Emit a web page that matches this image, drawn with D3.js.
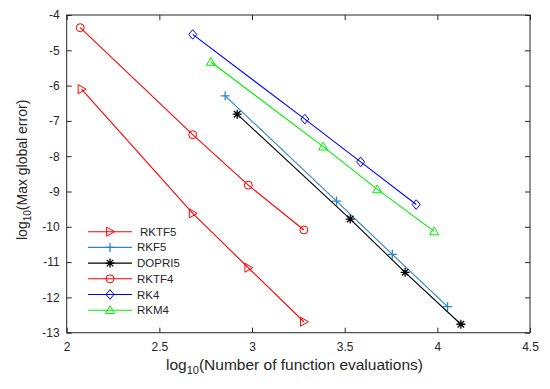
<html>
  <head>
    <meta charset="utf-8">
    <script src="https://d3js.org/d3.v7.min.js"></script>
    <style>
      body { margin: 0; background: white; }
      svg text { font-family: "Liberation Sans", Arial, sans-serif; fill: #262626; }
    </style>
  </head>
  <body>
    <script type="text/javascript">
      // input data (log10 evals, log10 max error)
      var seriesNames = ["RKTF5", "RKF5", "DOPRI5", "RKTF4", "RK4", "RKM4"];
      var seriesColors = ["#ff0000", "#2a86cc", "#000000", "#ff0000", "#0000ff", "#00ee00"];
      var seriesMarkers = ["triRight", "plus", "star", "circle", "diamond", "triUp"];

      var rktf5X = [2.08, 2.68, 2.98, 3.28];
      var rktf5Y = [-6.10, -9.62, -11.16, -12.69];
      var rkf5X = [2.855, 3.456, 3.757, 4.055];
      var rkf5Y = [-6.29, -9.27, -10.78, -12.26];
      var dopri5X = [2.92, 3.53, 3.826, 4.127];
      var dopri5Y = [-6.81, -9.78, -11.29, -12.76];
      var rktf4X = [2.073, 2.68, 2.98, 3.28];
      var rktf4Y = [-4.36, -7.39, -8.82, -10.09];
      var rk4X = [2.68, 3.285, 3.586, 3.886];
      var rk4Y = [-4.55, -6.95, -8.16, -9.37];
      var rkm4X = [2.778, 3.384, 3.676, 3.983];
      var rkm4Y = [-5.33, -7.73, -8.94, -10.13];

      var xTicks = [2, 2.5, 3, 3.5, 4, 4.5];
      var yTicks = [-4, -5, -6, -7, -8, -9, -10, -11, -12, -13];

      var allX = [rktf5X, rkf5X, dopri5X, rktf4X, rk4X, rkm4X];
      var allY = [rktf5Y, rkf5Y, dopri5Y, rktf4Y, rk4Y, rkm4Y];

      var width = 550, height = 389;
      var pLeft = 66.7, pRight = 530, pTop = 15, pBottom = 332.7;

      var svg = d3.select("body").append("svg")
        .attr("width", width)
        .attr("height", height);

      var x = d3.scaleLinear().domain([2, 4.5]).range([pLeft, pRight]);
      var y = d3.scaleLinear().domain([-13, -4]).range([pBottom, pTop]);

      // axes (MATLAB style box with inward ticks)
      var tickLen = 5;
      var axisColor = "#262626";
      var plainFmt = d => String(d);

      svg.append("g")
        .attr("transform", "translate(0," + pBottom + ")")
        .call(d3.axisBottom(x).tickValues(xTicks).tickSize(-tickLen).tickSizeOuter(0).tickPadding(10)
          .tickFormat(plainFmt))
        .call(g => g.select(".domain").remove())
        .call(g => g.selectAll("line").attr("stroke", axisColor))
        .call(g => g.selectAll("text").attr("font-size", "12px").attr("fill", axisColor)
          .style("font-family", "Liberation Sans, Arial, sans-serif"));

      svg.append("g")
        .attr("transform", "translate(0," + pTop + ")")
        .call(d3.axisTop(x).tickValues(xTicks).tickSize(-tickLen).tickSizeOuter(0).tickFormat(""))
        .call(g => g.select(".domain").remove())
        .call(g => g.selectAll("line").attr("stroke", axisColor));

      svg.append("g")
        .attr("transform", "translate(" + pLeft + ",0)")
        .call(d3.axisLeft(y).tickValues(yTicks).tickSize(-tickLen).tickSizeOuter(0).tickPadding(7)
          .tickFormat(plainFmt))
        .call(g => g.select(".domain").remove())
        .call(g => g.selectAll("line").attr("stroke", axisColor))
        .call(g => g.selectAll("text").attr("font-size", "12px").attr("fill", axisColor)
          .style("font-family", "Liberation Sans, Arial, sans-serif"));

      svg.append("g")
        .attr("transform", "translate(" + pRight + ",0)")
        .call(d3.axisRight(y).tickValues(yTicks).tickSize(-tickLen).tickSizeOuter(0).tickFormat(""))
        .call(g => g.select(".domain").remove())
        .call(g => g.selectAll("line").attr("stroke", axisColor));

      svg.append("rect")
        .attr("x", pLeft).attr("y", pTop)
        .attr("width", pRight - pLeft).attr("height", pBottom - pTop)
        .attr("fill", "none").attr("stroke", axisColor).attr("stroke-width", 1);

      // axis labels
      var xl = svg.append("text")
        .attr("x", 294.5)
        .attr("y", 370)
        .attr("text-anchor", "middle")
        .attr("font-size", "15.5px");
      xl.append("tspan").text("log");
      xl.append("tspan").attr("dy", 4).attr("font-size", "11px").text("10");
      xl.append("tspan").attr("dy", -4).text("(Number of function evaluations)");

      var yl = svg.append("text")
        .attr("transform", "translate(27," + ((pTop + pBottom) / 2 - 4) + ") rotate(-90)")
        .attr("text-anchor", "middle")
        .attr("font-size", "14px");
      yl.append("tspan").text("log");
      yl.append("tspan").attr("dy", 4).attr("font-size", "10px").text("10");
      yl.append("tspan").attr("dy", -4).text("(Max global error)");

      function drawMarker(g, type, cx, cy, color) {
        var s = 4.5;
        if (type == "circle") {
          g.append("circle").attr("cx", cx).attr("cy", cy).attr("r", 4)
            .attr("fill", "none").attr("stroke", color);
        } else if (type == "diamond") {
          g.append("path")
            .attr("d", "M" + cx + "," + (cy - 4.8) + "L" + (cx + 4) + "," + cy + "L" + cx + "," + (cy + 4.8) + "L" + (cx - 4) + "," + cy + "Z")
            .attr("fill", "none").attr("stroke", color);
        } else if (type == "triUp") {
          g.append("path")
            .attr("d", "M" + cx + "," + (cy - s) + "L" + (cx + s) + "," + (cy + s * 0.75) + "L" + (cx - s) + "," + (cy + s * 0.75) + "Z")
            .attr("fill", "none").attr("stroke", color);
        } else if (type == "triRight") {
          g.append("path")
            .attr("d", "M" + (cx + s) + "," + cy + "L" + (cx - s * 0.75) + "," + (cy - s) + "L" + (cx - s * 0.75) + "," + (cy + s) + "Z")
            .attr("fill", "none").attr("stroke", color);
        } else if (type == "plus") {
          g.append("path")
            .attr("d", "M" + (cx - s) + "," + cy + "H" + (cx + s) + "M" + cx + "," + (cy - s) + "V" + (cy + s))
            .attr("fill", "none").attr("stroke", color).attr("stroke-width", 1.3);
        } else if (type == "star") {
          var d = "M" + (cx - s) + "," + cy + "H" + (cx + s) + "M" + cx + "," + (cy - s) + "V" + (cy + s);
          var k = s * 0.72;
          d += "M" + (cx - k) + "," + (cy - k) + "L" + (cx + k) + "," + (cy + k);
          d += "M" + (cx - k) + "," + (cy + k) + "L" + (cx + k) + "," + (cy - k);
          g.append("path").attr("d", d)
            .attr("fill", "none").attr("stroke", color).attr("stroke-width", 1.3);
        }
      }

      var line = d3.line().x(d => x(d[0])).y(d => y(d[1]));

      for (var i = 0; i < seriesNames.length; i++) {
        var pts = d3.zip(allX[i], allY[i]);
        var g = svg.append("g");
        g.append("path")
          .datum(pts)
          .attr("fill", "none")
          .attr("stroke", seriesColors[i])
          .attr("stroke-width", 1.1)
          .attr("d", line);
        pts.forEach(function (p) {
          drawMarker(g, seriesMarkers[i], x(p[0]), y(p[1]), seriesColors[i]);
        });
      }

      // legend
      var legY0 = 231.7, legStep = 15.7;
      for (var i = 0; i < seriesNames.length; i++) {
        var ly = legY0 + i * legStep;
        var lg = svg.append("g");
        lg.append("line")
          .attr("x1", 88).attr("x2", 132)
          .attr("y1", ly).attr("y2", ly)
          .attr("stroke", seriesColors[i]).attr("stroke-width", 1.1);
        drawMarker(lg, seriesMarkers[i], 110, ly, seriesColors[i]);
        lg.append("text")
          .attr("x", i == 0 ? 140 : 137)
          .attr("y", ly + 4)
          .attr("font-size", "11.5px")
          .text(seriesNames[i]);
      }
    </script>
  </body>
</html>
